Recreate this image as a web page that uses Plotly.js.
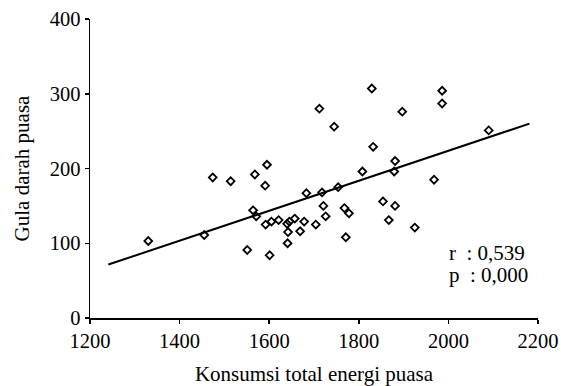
<!DOCTYPE html>
<html>
<head>
<meta charset="utf-8">
<script src="https://cdn.plot.ly/plotly-3.0.1.min.js"></script>
<style>html,body{margin:0;padding:0;background:#fff;}#chart{width:561px;height:386px;}</style>
</head>
<body>
<div id="chart"></div>
<script>
const energy = [1330,1455,1474,1514,1551,1564,1568,1571,1591,1592,1595,1601,1605,1621,1640,1641,1642,1645,1657,1669,1678,1683,1704,1712,1718,1721,1726,1745,1754,1768,1771,1778,1808,1829,1832,1854,1867,1879,1881,1881,1897,1925,1968,1986,1986,2090];
const glucose = [103,111,188,183,91,144,192,136,177,125,205,84,129,131,126,100,115,129,133,116,129,167,125,280,168,150,136,256,175,147,108,140,196,307,229,156,131,196,210,150,276,121,185,304,287,251];
const fitX = [1241, 2181];
const fitY = [71.5, 260];
const statLabels = ["r  : 0,539", "p  : 0,000"];
const statX = [1997, 1997];
const statY = [87.5, 58];

const font = {family: '"Liberation Serif", "Times New Roman", serif', size: 20.5, color: '#000'};
const titleFont = {family: '"Liberation Serif", "Times New Roman", serif', size: 21, color: '#000'};

const traces = [
  {x: energy, y: glucose, type: 'scatter', mode: 'markers',
   marker: {symbol: 'diamond-open', size: 6, color: '#000', line: {width: 1.8, color: '#000'}},
   hoverinfo: 'skip'},
  {x: fitX, y: fitY, type: 'scatter', mode: 'lines',
   line: {color: '#000', width: 2}, hoverinfo: 'skip'}
];

const layout = {
  width: 561, height: 386,
  margin: {l: 90, r: 23, t: 19, b: 68, pad: 0},
  paper_bgcolor: '#fff', plot_bgcolor: '#fff',
  showlegend: false,
  font: font,
  xaxis: {
    range: [1200, 2200], tickvals: [1200,1400,1600,1800,2000,2200],
    showgrid: false, zeroline: false, showline: true, linecolor: '#000', linewidth: 1.5,
    ticks: 'outside', ticklen: 4, tickwidth: 1.5, tickcolor: '#000',
    tickfont: font,
    title: {text: 'Konsumsi total energi puasa', font: titleFont, standoff: 20}
  },
  yaxis: {
    range: [0, 400], tickvals: [0,100,200,300,400],
    showgrid: false, zeroline: false, showline: true, linecolor: '#000', linewidth: 1.5,
    ticks: 'outside', ticklen: 4, tickwidth: 1.5, tickcolor: '#000',
    tickfont: font,
    title: {text: 'Gula darah puasa', font: titleFont, standoff: 14}
  },
  annotations: statLabels.map((t, i) => ({
    x: statX[i], y: statY[i], xref: 'x', yref: 'y', text: t,
    showarrow: false, xanchor: 'left', yanchor: 'middle', font: titleFont
  }))
};

Plotly.newPlot('chart', traces, layout, {staticPlot: true, displayModeBar: false});
</script>
</body>
</html>
